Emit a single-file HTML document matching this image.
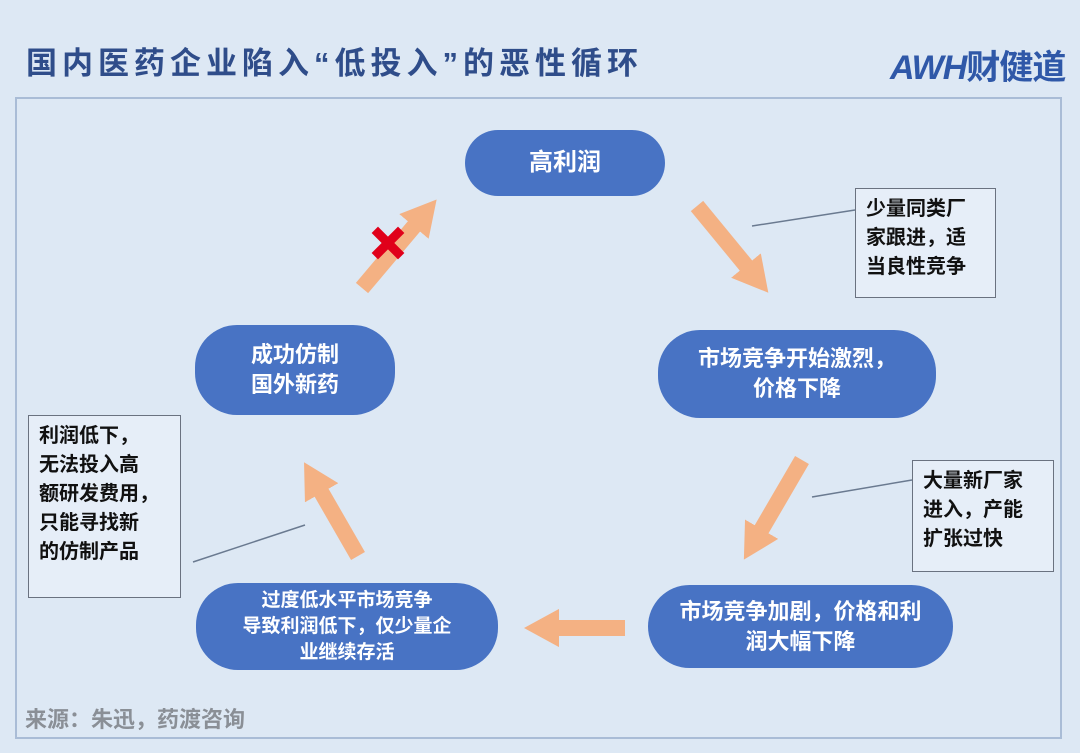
<!DOCTYPE html>
<html><head><meta charset="utf-8"><style>
body{margin:0;width:1080px;height:753px;background:#dde8f4;position:relative;overflow:hidden;font-family:"Liberation Sans","Noto Sans CJK SC",sans-serif}
.t{position:absolute;left:26px;top:38px;font-size:31px;font-weight:bold;color:#2f4d8a;letter-spacing:5px}
.frame{position:absolute;left:15px;top:97px;width:1047px;height:642px;border:2px solid #a9bcd6;box-sizing:border-box}
.n{position:absolute;background:#4873c4;color:#fff;border-radius:42px;display:flex;align-items:center;justify-content:center;text-align:center;font-weight:bold;font-size:22px;line-height:30px}
.c{position:absolute;background:#e6eef8;border:1.5px solid #6a7280;font-weight:bold;font-size:20px;line-height:29px;color:#111;padding:6px 0 0 10px;box-sizing:border-box}
.src{position:absolute;left:25px;top:702px;font-size:22px;font-weight:bold;color:#8a8f96}
.logo{position:absolute;left:890px;top:40px;font-size:34px;font-weight:bold;color:#2f58a8;font-style:italic;letter-spacing:-1px}
</style></head><body>
<div class="t">国内医药企业陷入“低投入”的恶性循环</div>
<div class="logo">AWH<span style="font-style:normal">财健道</span></div>
<div class="frame"></div>
<svg width="1080" height="753" style="position:absolute;left:0;top:0">
<defs><marker id="h" markerWidth="2.2" markerHeight="2.4" refX="0.2" refY="1.2" orient="auto"><polygon points="0,0 2.2,1.2 0,2.4" fill="#f4b183"/></marker></defs>
<g stroke="#f4b183" stroke-width="16" marker-end="url(#h)">
<line x1="362" y1="288" x2="416" y2="224"/>
<line x1="697" y1="206" x2="748" y2="268"/>
<line x1="802" y1="460" x2="760" y2="532"/>
<line x1="625" y1="628" x2="556" y2="628"/>
<line x1="358" y1="556" x2="320" y2="490"/>
</g>
<g stroke="#e0001a" stroke-width="9" stroke-linecap="square"><line x1="378" y1="233" x2="398" y2="253"/><line x1="398" y1="233" x2="378" y2="253"/></g>
<g stroke="#6a7a90" stroke-width="1.5"><line x1="752" y1="226" x2="855" y2="210"/><line x1="812" y1="497" x2="912" y2="480"/><line x1="193" y1="562" x2="305" y2="525"/></g>
</svg>
<div class="n" style="left:465px;top:130px;width:200px;height:66px;font-size:24px;border-radius:33px">高利润</div>
<div class="n" style="left:195px;top:325px;width:200px;height:90px">成功仿制<br>国外新药</div>
<div class="n" style="left:658px;top:330px;width:278px;height:88px">市场竞争开始激烈，<br>价格下降</div>
<div class="n" style="left:648px;top:585px;width:305px;height:83px">市场竞争加剧，价格和利<br>润大幅下降</div>
<div class="n" style="left:196px;top:583px;width:302px;height:87px;font-size:19px;line-height:26px">过度低水平市场竞争<br>导致利润低下，仅少量企<br>业继续存活</div>
<div class="c" style="left:855px;top:188px;width:141px;height:110px">少量同类厂<br>家跟进，适<br>当良性竞争</div>
<div class="c" style="left:912px;top:460px;width:142px;height:112px">大量新厂家<br>进入，产能<br>扩张过快</div>
<div class="c" style="left:28px;top:415px;width:153px;height:183px">利润低下，<br>无法投入高<br>额研发费用，<br>只能寻找新<br>的仿制产品</div>
<div class="src">来源：朱迅，药渡咨询</div>
</body></html>
